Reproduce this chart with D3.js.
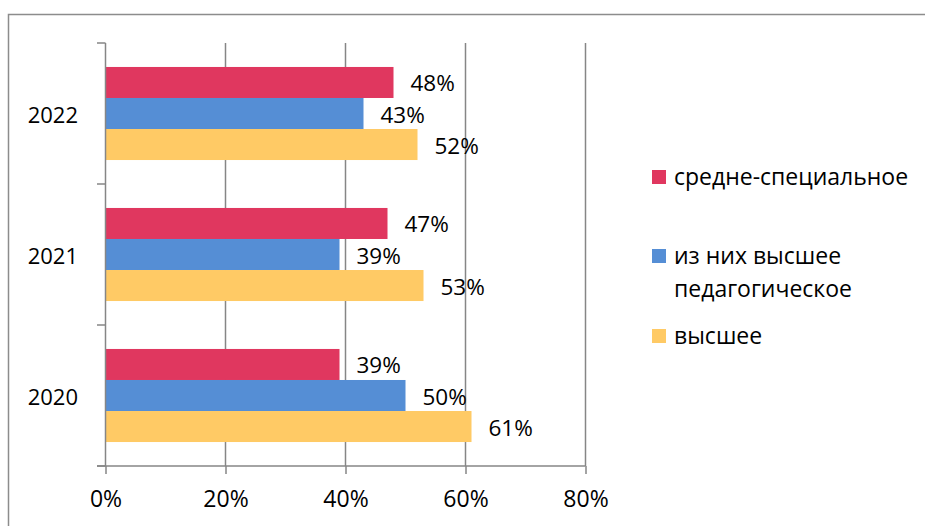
<!DOCTYPE html>
<html><head><meta charset="utf-8">
<script src="https://cdn.jsdelivr.net/npm/d3@7"></script>
<style>
html,body{margin:0;padding:0;background:#fff;}
svg{display:block;}
text{font-family:"Open Sans",sans-serif;fill:#000;}
</style></head>
<body>
<svg id="chart" width="925" height="526"></svg>
<script>
const years = ["2022", "2021", "2020"];
const seriesNames = ["средне-специальное", "из них высшее педагогическое", "высшее"];
const seriesColors = ["#E0375F", "#558ED5", "#FFCA65"];
const srednee = [0.48, 0.47, 0.39];
const pedagog = [0.43, 0.39, 0.50];
const vysshee = [0.52, 0.53, 0.61];
const xTicks = [0, 0.2, 0.4, 0.6, 0.8];
const legendLines = [["средне-специальное"], ["из них высшее", "педагогическое"], ["высшее"]];

const seriesValues = [srednee, pedagog, vysshee];
const svg = d3.select("#chart");

// outer frame
svg.append("path").attr("d", "M8.5,530 V14.5 H930")
  .attr("fill", "none").attr("stroke", "#8c8c8c").attr("stroke-width", 1.5);

const x = d3.scaleLinear().domain([0, 0.8]).range([105.5, 585.5]);
const y = d3.scaleBand().domain(years).range([43, 466]);
const inner = d3.scaleBand().domain(d3.range(3))
  .range([y.bandwidth() * 0.17, y.bandwidth() * 0.83]);

// gridlines
svg.append("g").selectAll("line").data(xTicks.slice(1)).join("line")
  .attr("x1", d => x(d)).attr("x2", d => x(d))
  .attr("y1", 43).attr("y2", 466)
  .attr("stroke", "#868686").attr("stroke-width", 1.5);

// bars
const rows = [];
years.forEach((yr, i) => seriesValues.forEach((arr, s) => rows.push({yr, s, v: arr[i]})));
svg.append("g").selectAll("rect").data(rows).join("rect")
  .attr("x", x(0))
  .attr("y", d => y(d.yr) + inner(d.s))
  .attr("width", d => x(d.v) - x(0))
  .attr("height", inner.bandwidth())
  .attr("fill", d => seriesColors[d.s]);

// value labels
svg.append("g").selectAll("text").data(rows).join("text")
  .attr("x", d => x(d.v) + 17)
  .attr("y", d => y(d.yr) + inner(d.s) + inner.bandwidth() / 2 + 9)
  .attr("font-size", 22.5)
  .text(d => Math.round(d.v * 100) + "%");

// y axis
svg.append("line").attr("x1", 105.5).attr("x2", 105.5).attr("y1", 43).attr("y2", 466)
  .attr("stroke", "#868686").attr("stroke-width", 1.5);
const yEdges = years.map(yr => y(yr)).concat([466]);
svg.append("g").selectAll("line").data(yEdges).join("line")
  .attr("x1", 97).attr("x2", 105.5).attr("y1", d => d).attr("y2", d => d)
  .attr("stroke", "#868686").attr("stroke-width", 1.5);
svg.append("g").selectAll("text").data(years).join("text")
  .attr("x", 78).attr("y", d => y(d) + y.bandwidth() / 2 + 9)
  .attr("text-anchor", "end").attr("font-size", 22)
  .text(d => d);

// x axis
const xAxis = svg.append("g").attr("transform", "translate(0,466)")
  .call(d3.axisBottom(x).tickValues(xTicks).tickSize(8).tickPadding(17)
    .tickFormat(d3.format(".0%")));
xAxis.select(".domain").attr("d", "M97,0H" + x(0.8)).attr("stroke", "#868686").attr("stroke-width", 1.5);
xAxis.selectAll(".tick line").attr("stroke", "#868686").attr("stroke-width", 1.5);
xAxis.selectAll(".tick text").attr("font-size", 23).attr("font-family", "Open Sans").attr("fill", "#000");

// legend
const legendY = [178, 257, 337];
const lg = svg.append("g");
legendLines.forEach((lines, i) => {
  lg.append("rect").attr("x", 652).attr("y", legendY[i] - 8).attr("width", 14).attr("height", 14)
    .attr("fill", seriesColors[i]);
  lines.forEach((ln, j) => {
    lg.append("text").attr("x", 674).attr("y", legendY[i] + 7 + j * 33)
      .attr("font-size", 23).text(ln);
  });
});
</script>
</body></html>
